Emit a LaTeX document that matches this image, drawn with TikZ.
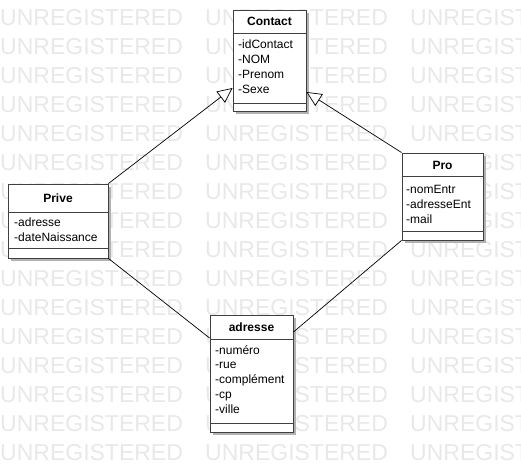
\documentclass[tikz,border=0pt]{standalone}
\usepackage{fontspec}
\setmainfont{Liberation Sans}
\usetikzlibrary{arrows.meta,shadows}

\begin{document}
\begin{tikzpicture}[x=1pt, y=-1pt, font=\fontsize{12}{14.8}\selectfont,
  classbox/.style={draw=black!75, fill=white, line width=0.9pt, inner sep=0pt,
    drop shadow={shadow xshift=3pt, shadow yshift=-3pt, fill=black!30, opacity=1}},
  classname/.style={font=\fontsize{12}{14.8}\selectfont\bfseries, inner sep=0pt},
  attrs/.style={align=left, anchor=north west, inner sep=0pt},
  sep/.style={draw=black!75, line width=0.9pt},
  inherit/.style={-{Triangle[open, length=15pt, width=14pt, fill=white]}, line width=0.7pt},
  assoc/.style={line width=0.7pt}]
  \useasboundingbox (0,0) rectangle (521,471);

  % watermark
  \foreach \row in {0,...,15}
    \foreach \col in {0,1,2}
      \node[anchor=west, inner sep=0pt, text=black!9, font=\fontsize{23}{23}\selectfont]
        at (\col*205, 18+\row*29) {UNREGISTERED};

  % Contact
  \node[classbox, minimum width=73pt, minimum height=101pt] (contact) at (269.5,60.5) {};
  \node[classname] (contactname) at (269.5,21.5) {Contact};
  \draw[sep] (contact.west |- 0,33) -- (contact.east |- 0,33);
  \draw[sep] (contact.west |- 0,103) -- (contact.east |- 0,103);
  \node[attrs] (contactattrs) at (238,40) {-idContact\\-NOM\\-Prenom\\-Sexe};

  % Prive
  \node[classbox, minimum width=100pt, minimum height=74pt] (prive) at (58,221) {};
  \node[classname] (privename) at (58,198) {Prive};
  \draw[sep] (prive.west |- 0,212) -- (prive.east |- 0,212);
  \draw[sep] (prive.west |- 0,248) -- (prive.east |- 0,248);
  \node[attrs] (priveattrs) at (14,218) {-adresse\\-dateNaissance};

  % Pro
  \node[classbox, minimum width=81pt, minimum height=87pt] (pro) at (442.5,196.5) {};
  \node[classname] (proname) at (442.5,165) {Pro};
  \draw[sep] (pro.west |- 0,176) -- (pro.east |- 0,176);
  \draw[sep] (pro.west |- 0,231) -- (pro.east |- 0,231);
  \node[attrs] (proattrs) at (406,185) {-nomEntr\\-adresseEnt\\-mail};

  % adresse
  \node[classbox, minimum width=83pt, minimum height=117pt] (adresse) at (251.5,373.5) {};
  \node[classname] (adressename) at (251.5,327) {adresse};
  \draw[sep] (adresse.west |- 0,339) -- (adresse.east |- 0,339);
  \draw[sep] (adresse.west |- 0,423) -- (adresse.east |- 0,423);
  \node[attrs] (adresseattrs) at (215,345) {-numéro\\-rue\\-complément\\-cp\\-ville};

  % links
  \draw[inherit] (prive.north east) -- ([yshift=-27.5pt]contact.west);
  \draw[inherit] (pro.north west) -- ([yshift=-31.5pt]contact.east);
  \draw[assoc] (prive.south east) -- ([yshift=35.5pt]adresse.west);
  \draw[assoc] (pro.south west) -- ([yshift=41.5pt]adresse.east);
\end{tikzpicture}
\end{document}
